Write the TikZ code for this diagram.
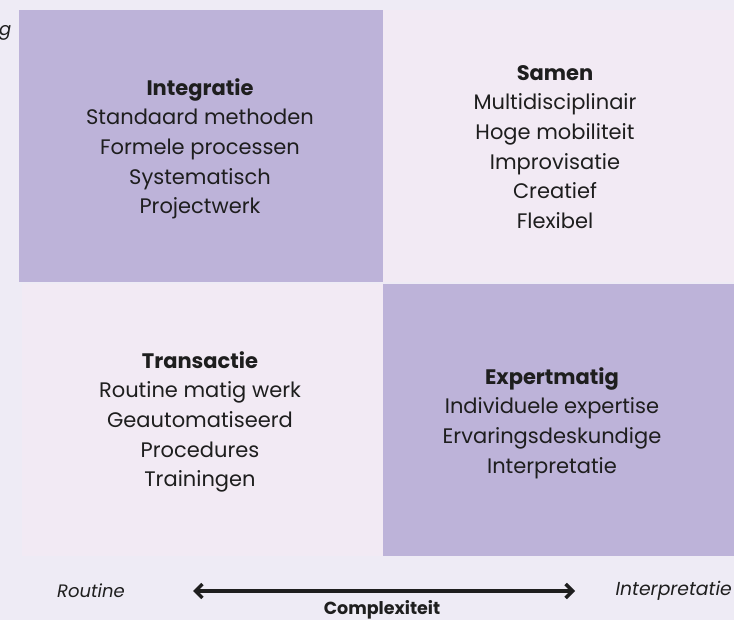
\documentclass[tikz,border=0pt]{standalone}
\usepackage{fontspec}
\setmainfont{Poppins}
\usetikzlibrary{arrows.meta}
\definecolor{bgc}{HTML}{EEEBF5}
\definecolor{purp}{HTML}{BDB3D9}
\definecolor{pale}{HTML}{F2EAF4}
\definecolor{ink}{HTML}{1E1E1E}
\tikzset{
  cell/.style={draw=none, inner sep=0pt, outer sep=0pt},
  body/.style={align=center, text=ink, font=\fontsize{21}{29.7}\selectfont, inner sep=0pt},
  axis/.style={text=ink, font=\fontsize{18}{20}\selectfont\itshape, inner sep=0pt},
}
\begin{document}
\begin{tikzpicture}[x=1pt,y=-1pt]
\fill[bgc] (0,0) rectangle (734,620);
\useasboundingbox (0,0) rectangle (734,620);
\fill[purp] (19,10) rectangle (383,282);
\fill[pale] (383,10) rectangle (734,282);
\fill[pale] (22,284) rectangle (383,556);
\fill[purp] (383,284) rectangle (734,556);
\node[body, anchor=north] (tl) at (200,78) {\textbf{Integratie}\\Standaard methoden\\Formele processen\\Systematisch\\Projectwerk};
\node[body, anchor=north] (tr) at (555,65) {\textbf{Samen}\\Multidisciplinair\\Hoge mobiliteit\\Improvisatie\\Creatief\\Flexibel};
\node[body, anchor=north] (bl) at (200,351) {\textbf{Transactie}\\Routine matig werk\\Geautomatiseerd\\Procedures\\Trainingen};
\node[body, anchor=north] (br) at (552,367) {\textbf{Expertmatig}\\Individuele expertise\\Ervaringsdeskundige\\Interpretatie};
\node[axis, anchor=west] (g) at (-1,33) {g};
\node[axis, anchor=west] (rt) at (57,591) {Routine};
\node[axis, anchor=east, font=\fontsize{18.8}{20}\selectfont\itshape] (ip) at (732,591) {Interpretatie};
\coordinate (al) at (193,591);
\coordinate (ar) at (575,591);
\draw[line width=3.4pt, ink, {Straight Barb[length=7pt,width=14pt]}-{Straight Barb[length=7pt,width=14pt]}] (al) -- (ar);
\node[text=ink, font=\fontsize{17.5}{20}\selectfont\bfseries, inner sep=0pt] (cx) at (382,609.5) {Complexiteit};
\end{tikzpicture}
\end{document}
